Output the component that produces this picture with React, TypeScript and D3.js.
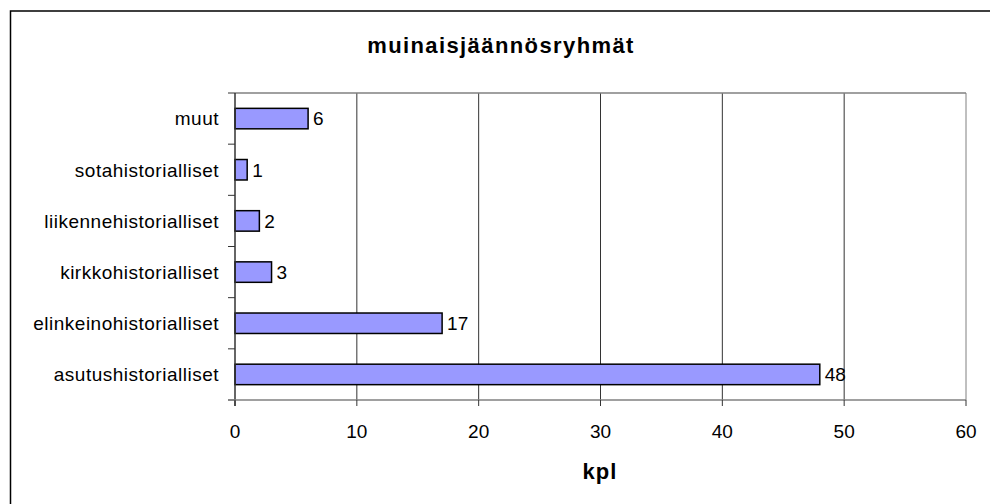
import React, { useEffect, useRef } from 'react';
import * as d3 from 'd3';

const categories = [
  'muut',
  'sotahistorialliset',
  'liikennehistorialliset',
  'kirkkohistorialliset',
  'elinkeinohistorialliset',
  'asutushistorialliset',
];
const values = [6, 1, 2, 3, 17, 48];
const xTicks = [0, 10, 20, 30, 40, 50, 60];

const App = () => {
  const svgRef = useRef<SVGSVGElement>(null);

  useEffect(() => {
    const width = 990;
    const height = 504;
    const left = 235;
    const right = 966;
    const top = 93;
    const bottom = 400;
    const font = 'Arial, "Liberation Sans", sans-serif';

    const svg = d3.select(svgRef.current).attr('width', width).attr('height', height);
    svg.selectAll('*').remove();

    svg.append('rect').attr('width', width).attr('height', height).attr('fill', '#fff');

    // chart border, cut off on the right and bottom
    svg
      .append('rect')
      .attr('x', 10.5)
      .attr('y', 11)
      .attr('width', 1000)
      .attr('height', 520)
      .attr('fill', 'none')
      .attr('stroke', '#000')
      .attr('stroke-width', 1.5);

    const x = d3.scaleLinear().domain([0, 60]).range([left, right]);
    const y = d3.scaleBand().domain(categories).range([top, bottom]).paddingInner(0.6).paddingOuter(0.3);
    const band = (bottom - top) / categories.length;

    // gridlines
    svg
      .append('g')
      .selectAll('line')
      .data(xTicks.slice(1))
      .enter()
      .append('line')
      .attr('x1', (d) => x(d))
      .attr('x2', (d) => x(d))
      .attr('y1', top)
      .attr('y2', bottom)
      .attr('stroke', (d) => (d === 60 ? '#808080' : '#333'))
      .attr('stroke-width', 1);

    // plot top line
    svg
      .append('line')
      .attr('x1', left)
      .attr('x2', right)
      .attr('y1', top)
      .attr('y2', top)
      .attr('stroke', '#808080')
      .attr('stroke-width', 1.5);

    // bars
    svg
      .append('g')
      .selectAll('rect')
      .data(values)
      .enter()
      .append('rect')
      .attr('x', x(0))
      .attr('y', (d, i) => y(categories[i]))
      .attr('width', (d) => x(d) - x(0))
      .attr('height', y.bandwidth())
      .attr('fill', '#9999ff')
      .attr('stroke', '#000')
      .attr('stroke-width', 1.5);

    // value labels
    svg
      .append('g')
      .selectAll('text')
      .data(values)
      .enter()
      .append('text')
      .attr('x', (d) => x(d) + 5)
      .attr('y', (d, i) => y(categories[i]) + y.bandwidth() / 2)
      .attr('dy', '0.36em')
      .attr('font-family', font)
      .attr('font-size', 19)
      .attr('fill', '#000')
      .text((d) => d);

    // y axis line and ticks
    svg
      .append('line')
      .attr('x1', left)
      .attr('x2', left)
      .attr('y1', top)
      .attr('y2', bottom + 6)
      .attr('stroke', '#333')
      .attr('stroke-width', 1.5);
    svg
      .append('g')
      .selectAll('line')
      .data(d3.range(categories.length + 1))
      .enter()
      .append('line')
      .attr('x1', left - 7)
      .attr('x2', left)
      .attr('y1', (d) => top + d * band)
      .attr('y2', (d) => top + d * band)
      .attr('stroke', '#333')
      .attr('stroke-width', 1);

    // category labels
    svg
      .append('g')
      .selectAll('text')
      .data(categories)
      .enter()
      .append('text')
      .attr('x', 219)
      .attr('y', (d) => y(d) + y.bandwidth() / 2)
      .attr('dy', '0.36em')
      .attr('text-anchor', 'end')
      .attr('font-family', font)
      .attr('font-size', 19)
      .attr('letter-spacing', 0.5)
      .attr('fill', '#000')
      .text((d) => d);

    // x axis
    svg
      .append('line')
      .attr('x1', left - 7)
      .attr('x2', right)
      .attr('y1', bottom)
      .attr('y2', bottom)
      .attr('stroke', '#808080')
      .attr('stroke-width', 1.5);
    svg
      .append('g')
      .selectAll('line')
      .data(xTicks)
      .enter()
      .append('line')
      .attr('x1', (d) => x(d))
      .attr('x2', (d) => x(d))
      .attr('y1', bottom)
      .attr('y2', bottom + 6)
      .attr('stroke', '#333')
      .attr('stroke-width', 1);
    svg
      .append('g')
      .selectAll('text')
      .data(xTicks)
      .enter()
      .append('text')
      .attr('x', (d) => x(d))
      .attr('y', 438)
      .attr('text-anchor', 'middle')
      .attr('font-family', font)
      .attr('font-size', 19)
      .attr('fill', '#000')
      .text((d) => d);

    // titles
    svg
      .append('text')
      .attr('x', 501)
      .attr('y', 53)
      .attr('text-anchor', 'middle')
      .attr('font-family', font)
      .attr('font-size', 22)
      .attr('font-weight', 'bold')
      .attr('letter-spacing', 1.4)
      .text('muinaisjäännösryhmät');
    svg
      .append('text')
      .attr('x', 600)
      .attr('y', 479)
      .attr('text-anchor', 'middle')
      .attr('font-family', font)
      .attr('font-size', 22)
      .attr('font-weight', 'bold')
      .attr('letter-spacing', 1)
      .text('kpl');
  }, []);

  return <svg ref={svgRef} style={{ position: 'absolute', left: 0, top: 0 }} />;
};

export default App;
